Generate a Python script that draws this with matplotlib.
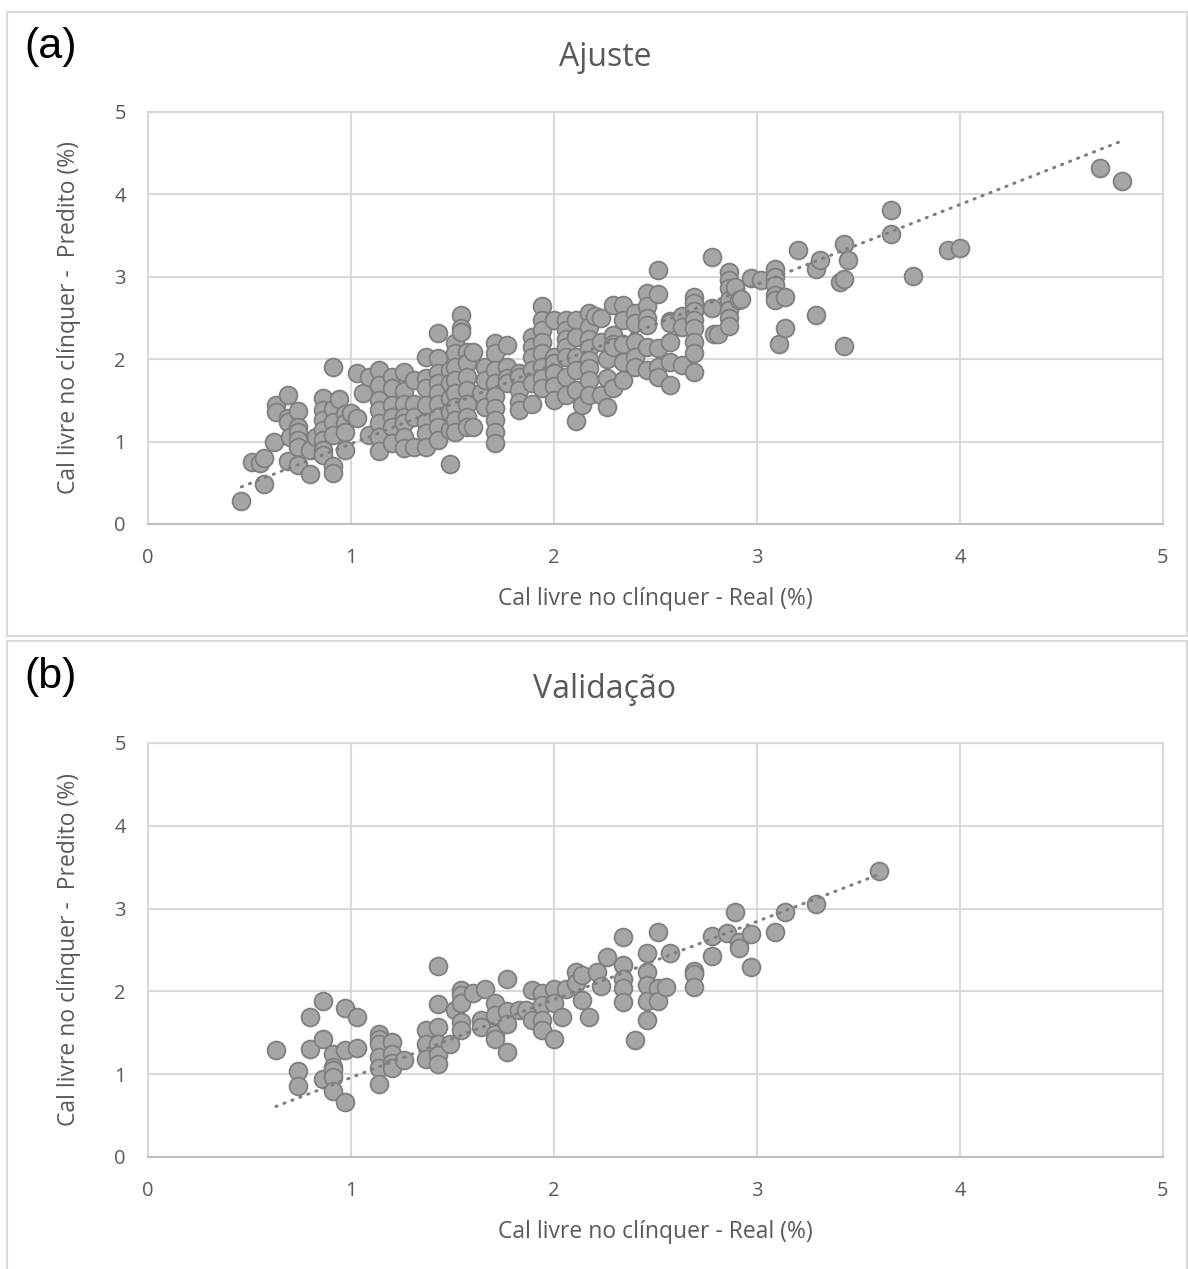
import matplotlib
matplotlib.use("Agg")
import matplotlib.pyplot as plt
import matplotlib.patches as mpatches
import numpy as np

# Ajuste (training set): real vs predicted free lime, %
real_a = [
    0.46, 0.51, 0.55, 0.57, 0.57, 0.62, 0.63, 0.63,
    0.69, 0.69, 0.69, 0.69, 0.70,
    0.74, 0.74, 0.74, 0.74, 0.74, 0.74,
    0.80, 0.80, 0.83,
    0.86, 0.86, 0.86, 0.86, 0.86, 0.86, 0.86,
    0.91, 0.91, 0.91, 0.91, 0.91, 0.91, 0.94,
    0.97, 0.97, 0.97, 0.97, 1.00, 1.03, 1.03, 1.06, 1.09, 1.09,
    1.14, 1.14, 1.14, 1.14, 1.14, 1.14, 1.14,
    1.20, 1.20, 1.20, 1.20, 1.20, 1.20,
    1.26, 1.26, 1.26, 1.26, 1.26, 1.26, 1.26,
    1.31, 1.31, 1.31, 1.31,
    1.37, 1.37, 1.37, 1.37, 1.37, 1.37, 1.37,
    1.43, 1.43, 1.43, 1.43, 1.43, 1.43, 1.43, 1.43, 1.43,
    1.49, 1.49, 1.49, 1.49, 1.49, 1.49,
    1.51, 1.51, 1.51, 1.51, 1.51, 1.51, 1.51, 1.51,
    1.54, 1.54, 1.54,
    1.57, 1.57, 1.57, 1.57, 1.57, 1.57, 1.57,
    1.60, 1.60, 1.64, 1.66, 1.66, 1.66,
    1.71, 1.71, 1.71, 1.71, 1.71, 1.71, 1.71, 1.71, 1.71,
    1.77, 1.77, 1.77, 1.77,
    1.83, 1.83, 1.83, 1.83, 1.83,
    1.89, 1.89, 1.89, 1.89, 1.89, 1.89,
    1.94, 1.94, 1.94, 1.94, 1.94, 1.94, 1.94, 1.94,
    2.00, 2.00, 2.00, 2.00, 2.00, 2.00,
    2.06, 2.06, 2.06, 2.06, 2.06, 2.06, 2.06,
    2.11, 2.11, 2.11, 2.11, 2.11, 2.11, 2.14,
    2.17, 2.17, 2.17, 2.17, 2.17, 2.17, 2.17, 2.17,
    2.20, 2.23, 2.23, 2.23, 2.26, 2.26, 2.26,
    2.29, 2.29, 2.29, 2.29, 2.29,
    2.34, 2.34, 2.34, 2.34, 2.34,
    2.40, 2.40, 2.40, 2.40, 2.40,
    2.46, 2.46, 2.46, 2.46, 2.46, 2.46,
    2.51, 2.51, 2.51, 2.51, 2.51,
    2.57, 2.57, 2.57, 2.57, 2.57,
    2.63, 2.63, 2.63,
    2.69, 2.69, 2.69, 2.69, 2.69, 2.69, 2.69, 2.69,
    2.78, 2.78, 2.79, 2.81,
    2.86, 2.86, 2.86, 2.86, 2.86, 2.86, 2.86,
    2.89, 2.91, 2.92, 2.97, 3.02,
    3.09, 3.09, 3.09, 3.09, 3.09, 3.11, 3.14, 3.14,
    3.20, 3.29, 3.29, 3.31, 3.41, 3.43, 3.43, 3.43, 3.45,
    3.66, 3.66, 3.77, 3.94, 4.00, 4.69, 4.80,
]
pred_a = [
    0.28, 0.75, 0.74, 0.49, 0.80, 1.00, 1.44, 1.36,
    1.57, 1.29, 1.24, 0.77, 1.05,
    1.37, 1.18, 1.12, 1.02, 0.94, 0.72,
    0.61, 0.90, 1.05,
    1.53, 1.38, 1.26, 1.14, 1.02, 0.90, 0.84,
    1.90, 1.40, 1.24, 1.08, 0.70, 0.62, 1.52,
    1.34, 1.22, 1.12, 0.90, 1.35, 1.29, 1.83, 1.59, 1.78, 1.08,
    1.87, 1.69, 1.50, 1.38, 1.22, 1.06, 0.88,
    1.79, 1.65, 1.44, 1.30, 1.18, 0.98,
    1.85, 1.61, 1.46, 1.30, 1.22, 1.06, 0.92,
    1.75, 1.46, 1.30, 0.94,
    2.03, 1.77, 1.65, 1.44, 1.24, 1.10, 0.94,
    2.32, 2.01, 1.83, 1.71, 1.59, 1.46, 1.30, 1.18, 1.02,
    1.87, 1.71, 1.53, 1.36, 1.14, 0.73,
    2.20, 2.07, 1.91, 1.75, 1.59, 1.42, 1.26, 1.12,
    2.54, 2.38, 2.33,
    2.09, 1.95, 1.79, 1.63, 1.46, 1.30, 1.18,
    2.09, 1.18, 1.59, 1.91, 1.75, 1.42,
    2.20, 2.07, 1.87, 1.71, 1.55, 1.41, 1.26, 1.12, 0.98,
    2.17, 1.91, 1.77, 1.71,
    1.83, 1.79, 1.63, 1.48, 1.38,
    2.27, 2.15, 2.03, 1.87, 1.71, 1.46,
    2.64, 2.48, 2.35, 2.21, 2.07, 1.91, 1.77, 1.65,
    2.48, 2.03, 1.95, 1.83, 1.67, 1.50,
    2.48, 2.35, 2.25, 2.15, 2.03, 1.79, 1.57,
    2.48, 2.27, 2.03, 1.87, 1.63, 1.25, 1.44,
    2.56, 2.39, 2.25, 2.13, 1.99, 1.89, 1.75, 1.57,
    2.52, 2.50, 2.21, 1.57, 2.00, 1.77, 1.42,
    2.66, 2.29, 2.19, 2.15, 1.65,
    2.66, 2.48, 2.19, 1.97, 1.75,
    2.56, 2.44, 2.21, 2.03, 1.91,
    2.80, 2.64, 2.50, 2.42, 2.15, 1.87,
    3.08, 2.79, 2.13, 1.91, 1.79,
    2.46, 2.44, 2.21, 1.97, 1.69,
    2.52, 2.39, 1.93,
    2.76, 2.68, 2.58, 2.48, 2.38, 2.21, 2.07, 1.84,
    3.24, 2.62, 2.30, 2.31,
    3.06, 2.96, 2.86, 2.72, 2.60, 2.50, 2.40,
    2.88, 2.72, 2.73, 2.99, 2.96,
    3.10, 3.00, 2.90, 2.78, 2.72, 2.18, 2.76, 2.38,
    3.33, 3.10, 2.54, 3.20, 2.94, 3.40, 2.97, 2.16, 3.20,
    3.81, 3.52, 3.01, 3.33, 3.35, 4.32, 4.16,
]
# linear trendline of the training set (slope, intercept)
trend_a = (0.968, 0.005)

# Validação (test set)
real_b = [
    0.63, 0.74, 0.74, 0.80, 0.80, 0.86, 0.86, 0.86,
    0.91, 0.91, 0.91, 0.91, 0.91,
    0.97, 0.97, 0.97, 1.03, 1.03,
    1.14, 1.14, 1.14, 1.14, 1.14, 1.14,
    1.20, 1.20, 1.20, 1.20, 1.26,
    1.37, 1.37, 1.37,
    1.43, 1.43, 1.43, 1.43, 1.43, 1.43,
    1.49, 1.51, 1.54, 1.54, 1.54, 1.54, 1.54,
    1.60, 1.64, 1.64, 1.66,
    1.71, 1.71, 1.71, 1.71,
    1.77, 1.77, 1.77, 1.77, 1.83, 1.86,
    1.89, 1.89, 1.94, 1.94, 1.94, 1.94,
    2.00, 2.00, 2.00, 2.04, 2.06, 2.11, 2.11, 2.14, 2.14, 2.17,
    2.21, 2.23, 2.26,
    2.34, 2.34, 2.34, 2.34, 2.34, 2.40,
    2.46, 2.46, 2.46, 2.46, 2.46,
    2.51, 2.51, 2.51, 2.55, 2.57,
    2.69, 2.69, 2.69, 2.78, 2.78, 2.85, 2.89, 2.91, 2.91,
    2.97, 2.97, 3.09, 3.14, 3.29, 3.60,
]
pred_b = [
    1.29, 1.04, 0.86, 1.69, 1.30, 1.88, 1.42, 0.94,
    1.25, 1.09, 1.05, 0.97, 0.80,
    1.80, 1.29, 0.67, 1.69, 1.32,
    1.49, 1.43, 1.36, 1.21, 1.07, 0.88,
    1.39, 1.25, 1.13, 1.07, 1.17,
    1.53, 1.37, 1.18,
    2.31, 1.85, 1.57, 1.37, 1.23, 1.12,
    1.36, 1.77, 2.02, 1.96, 1.86, 1.63, 1.53,
    1.98, 1.65, 1.57, 2.03,
    1.86, 1.72, 1.49, 1.43,
    2.15, 1.76, 1.61, 1.27, 1.78, 1.78,
    2.02, 1.65, 1.98, 1.84, 1.65, 1.53,
    2.03, 1.86, 1.43, 1.69, 2.03, 2.24, 2.10, 2.20, 1.90, 1.69,
    2.24, 2.06, 2.41,
    2.66, 2.32, 2.15, 2.04, 1.87, 1.41,
    2.46, 2.24, 2.08, 1.88, 1.65,
    2.72, 2.04, 1.88, 2.05, 2.46,
    2.25, 2.21, 2.05, 2.67, 2.43, 2.71, 2.96, 2.60, 2.53,
    2.69, 2.29, 2.72, 2.96, 3.06, 3.45,
]
trend_b = (0.943, 0.016)

W, H = 1188, 1269
fig = plt.figure(figsize=(W / 100, H / 100), dpi=100)
plt.rcParams["font.family"] = ["Open Sans", "DejaVu Sans"]

GRID = "#d9d9d9"
TXT = "#595959"


def frame(top, bottom):
    # light border around each chart block
    r = mpatches.Rectangle((7 / W, 1 - bottom / H), (W - 8) / W, (bottom - top) / H,
                           transform=fig.transFigure, fill=False,
                           edgecolor=GRID, linewidth=1.5)
    fig.add_artist(r)


def panel(rect, x, y, trend, title, letter, title_y, letter_y):
    ax = fig.add_axes(rect)
    ax.scatter(x, y, s=165, facecolor="#a5a5a5", edgecolor="#7f7f7f",
               linewidth=1.3, zorder=3)
    k, b = trend
    xs = np.array([min(x), max(x)])
    ax.plot(xs, k * xs + b, color="#7f7f7f", linewidth=2.2,
            linestyle=(0, (0.4, 2.4)), dash_capstyle="round", zorder=4)
    ax.set_xlim(0, 5)
    ax.set_ylim(0, 5)
    ax.set_xticks(range(6))
    ax.set_yticks(range(6))
    ax.grid(True, color=GRID, linewidth=1.5)
    ax.set_axisbelow(True)
    for s in ax.spines.values():
        s.set_color(GRID)
        s.set_linewidth(1.5)
    ax.spines["bottom"].set_color("#bfbfbf")
    ax.tick_params(length=0, labelsize=14.5, colors=TXT)
    ax.tick_params(axis="x", pad=17)
    ax.tick_params(axis="y", pad=16)
    ax.set_xlabel("Cal livre no clínquer - Real (%)", fontsize=16.5, color=TXT, labelpad=14)
    ax.set_ylabel("Cal livre no clínquer -  Predito (%)", fontsize=16.5, color=TXT, labelpad=24)
    fig.text(605 / W, 1 - title_y / H, title, fontsize=23, color=TXT,
             ha="center", va="center")
    fig.text(24 / W, 1 - letter_y / H, letter, fontsize=31, color="black",
             ha="left", va="center", family="Liberation Sans")
    return ax


frame(12, 636)
frame(641, 1275)

panel([148 / W, 1 - 524 / H, 1015 / W, 412 / H], real_a, pred_a, trend_a,
      "Ajuste", "(a)", 57, 47)
panel([148 / W, 1 - 1157 / H, 1015 / W, 414 / H], real_b, pred_b, trend_b,
      "Validação", "(b)", 690, 677)

fig.savefig("out.png", dpi=100)
